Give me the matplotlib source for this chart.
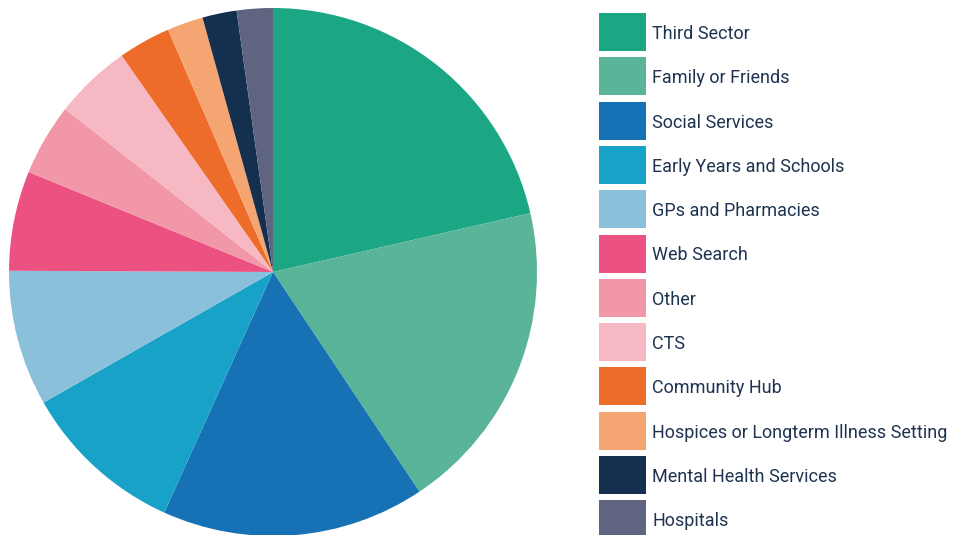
import matplotlib.pyplot as plt
from matplotlib.patches import Rectangle

labels = ["Third Sector", "Family or Friends", "Social Services",
          "Early Years and Schools", "GPs and Pharmacies", "Web Search",
          "Other", "CTS", "Community Hub",
          "Hospices or Longterm Illness Setting", "Mental Health Services",
          "Hospitals"]
shares = [21.4, 19.2, 16.1, 10.0, 8.3, 6.1, 4.4, 4.7, 3.2, 2.2, 2.1, 2.2]
colors = ["#1ba784", "#5ab49a", "#1672b5", "#18a2c8", "#8bc0db", "#eb5282",
          "#f297a8", "#f6b9c3", "#ee6c2a", "#f5a572", "#152f4e", "#5f6580"]

W, H = 963, 535
fig = plt.figure(figsize=(W / 100, H / 100), dpi=100)
plt.rcParams['font.family'] = ['Roboto', 'DejaVu Sans']

# pie centred at (273, 272) px with radius 264 px
cx, cy, r = 273, 272, 264
ax = fig.add_axes([(cx - r) / W, (H - cy - r) / H, 2 * r / W, 2 * r / H])
ax.pie(shares, colors=colors, startangle=90, counterclock=False,
       radius=1, wedgeprops=dict(linewidth=0))
ax.set_xlim(-1, 1)
ax.set_ylim(-1, 1)
ax.set_aspect('equal')
ax.axis('off')

# legend drawn by hand: 47x38 px swatches, rows 44.3 px apart
for i, (lab, col) in enumerate(zip(labels, colors)):
    yc = 32 + i * 44.3
    fig.add_artist(Rectangle((599 / W, 1 - (yc + 19) / H), 47 / W, 38 / H,
                             transform=fig.transFigure, facecolor=col,
                             edgecolor='none'))
    fig.text(652 / W, 1 - yc / H, lab, fontsize=13, color='#1e3350',
             va='center_baseline', ha='left')

fig.savefig("out.png", dpi=100)
